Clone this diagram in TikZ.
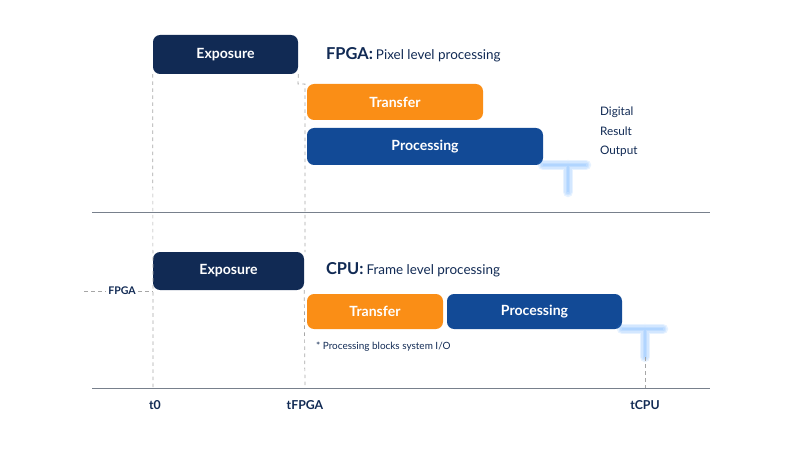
\documentclass[tikz,border=0pt]{standalone}
\usepackage{fontspec}
\setmainfont{Lato}
\usetikzlibrary{positioning}
\definecolor{navy}{RGB}{17, 42, 84}
\definecolor{royal}{RGB}{18, 74, 150}
\definecolor{tangerine}{RGB}{250, 142, 22}
\definecolor{glowblue}{RGB}{60, 150, 255}
\definecolor{rule}{RGB}{120, 128, 140}

\tikzset{
  block/.style={rounded corners=6pt, inner sep=0pt, text=white, font=\fontsize{12}{14}\selectfont\bfseries},
  guide/.style={dashed, gray!70, line width=0.6pt},
  axis/.style={rule, line width=0.8pt},
  tick/.style={font=\fontsize{10.5}{12}\selectfont\bfseries, text=navy},
  glow/.style={line cap=round, glowblue, opacity=0.12, line width=#1},
}

\begin{document}
\begin{tikzpicture}[x=0.03cm, y=-0.03cm]
            \useasboundingbox (0,0) rectangle (800,450);
            % FPGA row
            \node[block, fill=navy, minimum width=145*0.03cm, minimum height=39*0.03cm] (expA) at (225.5,54.5) {Exposure};
            \node[anchor=west, text=navy] (titleA) at (322,55) {{\fontsize{14}{16}\selectfont\bfseries FPGA:}\ \fontsize{11.5}{14}\selectfont Pixel level processing};
            \node[block, fill=tangerine, minimum width=176*0.03cm, minimum height=36*0.03cm] (trA) at (395,102) {Transfer};
            \node[block, fill=royal, minimum width=236*0.03cm, minimum height=37*0.03cm] (procA) at (425,146.5) {Processing};
            \node[anchor=west, align=left, text=navy, font=\fontsize{10}{16.5}\selectfont] (dro) at (596,132) {Digital\\Result\\Output};
            \coordinate (tAl) at (543,165);
            \coordinate (tAr) at (586,165);
            \coordinate (tAm) at (568,165);
            \coordinate (tAb) at (568,192);
            \foreach \w in {9,6,4} {
              \draw[glow=\w pt] (tAl) -- (tAr) (tAm) -- (tAb);
            }
            \draw[line width=1.2pt, glowblue!40] (tAl) -- (tAr) (tAm) -- (tAb);
            % Separator
            \draw[axis] (92,212) -- (710,212);
            % CPU row
            \node[block, fill=navy, minimum width=151*0.03cm, minimum height=38*0.03cm] (expB) at (228.5,271) {Exposure};
            \node[anchor=west, text=navy] (titleB) at (322,270) {{\fontsize{14}{16}\selectfont\bfseries CPU:}\ \fontsize{11.5}{14}\selectfont Frame level processing};
            \node[block, fill=tangerine, minimum width=136*0.03cm, minimum height=35*0.03cm] (trB) at (375,311.5) {Transfer};
            \node[block, fill=royal, minimum width=175*0.03cm, minimum height=35*0.03cm] (procB) at (534.5,311.5) {Processing};
            \node[anchor=west, text=navy, font=\fontsize{8.5}{10}\selectfont] (note) at (312,347) {* Processing blocks system I/O};
            \coordinate (tBl) at (622,329);
            \coordinate (tBr) at (663,329);
            \coordinate (tBm) at (645,329);
            \coordinate (tBb) at (645,357);
            \foreach \w in {9,6,4} {
              \draw[glow=\w pt] (tBl) -- (tBr) (tBm) -- (tBb);
            }
            \draw[line width=1.2pt, glowblue!40] (tBl) -- (tBr) (tBm) -- (tBb);
            % Time axis
            \draw[axis] (92,388) -- (710,388);
            \node[tick] (t0) at (155,405) {t0};
            \node[tick] (tF) at (305,405) {tFPGA};
            \node[tick] (tC) at (645,405) {tCPU};
            \node[text=navy, font=\fontsize{9}{10}\selectfont\bfseries, fill=white, inner sep=2pt] (fpgaL) at (122,291) {FPGA};
            % Guides
            \draw[guide] (expA.south west) -- (153,388);
            \draw[guide] (expA.south east) -- (298,84) -- (305,84) -- (305,252);
            \draw[guide] (expB.south east) -- (305,388);
            \draw[guide] (84,291) -- (fpgaL.west) (fpgaL.east) -- (153,291);
            \draw[guide] (tBb) -- (645,388);
        \end{tikzpicture}
\end{document}
